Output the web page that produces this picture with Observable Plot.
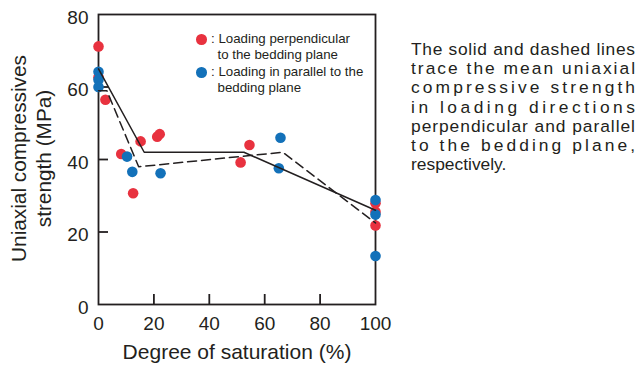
<!DOCTYPE html>
<html><head><meta charset="utf-8">
<script src="https://cdn.jsdelivr.net/npm/d3@7"></script>
<script src="https://cdn.jsdelivr.net/npm/@observablehq/plot@0.6"></script>
<style>
body{margin:0;background:#fff;font-family:"Liberation Sans",Arial,sans-serif;color:#231f20;}
#wrap{position:relative;width:638px;height:369px;overflow:hidden;}
#chart{position:absolute;left:0;top:0;}
.leg{position:absolute;font-size:13.3px;line-height:16px;white-space:nowrap;}
.dot{position:absolute;width:10.6px;height:10.6px;border-radius:50%;}
#note{position:absolute;left:411px;top:40px;width:224px;font-size:17.4px;line-height:19.2px;}
#note div{white-space:nowrap;}
</style></head>
<body><div id="wrap"><div id="chart"></div><div id="legend"></div><div id="note"></div></div>
<script>
// Data
const perpX = [0, 0, 2.5, 8.2, 12.5, 15.2, 21.2, 22.1, 51.3, 54.5, 100, 100, 100];
const perpY = [71.2, 62.7, 56.5, 41.5, 30.7, 45, 46.3, 47, 39.2, 44, 27.9, 25.6, 21.8];
const paraX = [0, 0, 0, 10.3, 12.2, 22.4, 65.1, 65.7, 100, 100, 100];
const paraY = [64.2, 62, 60, 40.8, 36.6, 36.2, 37.6, 46, 28.8, 24.8, 13.4];
const solidX = [0, 16.5, 52.5, 100];
const solidY = [65, 42, 42, 26];
const dashX = [0, 3, 14.5, 66.5, 100];
const dashY = [59, 59, 38, 42, 22.5];
const xTicks = [0, 20, 40, 60, 80, 100];
const yTicks = [0, 20, 40, 60, 80];
const legendLabels = [": Loading perpendicular\nto the bedding plane", ": Loading in parallel to the\nbedding plane"];
const noteLines = ["The solid and dashed lines", "trace the mean uniaxial", "compressive strength", "in loading directions", "perpendicular and parallel", "to the bedding plane,", "respectively."];
const xTitle = "Degree of saturation (%)";
const yTitle = "Uniaxial compressives\nstrength (MPa)";

const RED = "#e8323f", BLUE = "#1371b9", INK = "#231f20";

const perp = perpX.map((x, i) => ({x, y: perpY[i]}));
const para = paraX.map((x, i) => ({x, y: paraY[i]}));
const solid = solidX.map((x, i) => ({x, y: solidY[i]}));
const dash = dashX.map((x, i) => ({x, y: dashY[i]}));

const chart = Plot.plot({
  width: 400, height: 369,
  marginLeft: 98, marginRight: 25, marginTop: 14, marginBottom: 65,
  style: {fontFamily: "Liberation Sans, Arial, sans-serif", color: INK, background: "transparent", overflow: "visible"},
  x: {domain: [0, 100], axis: null},
  y: {domain: [0, 80], axis: null},
  marks: [
    Plot.axisX(xTicks.slice(1, -1), {tickSize: -10, tickFormat: () => "", strokeWidth: 1.8, stroke: INK, label: null}),
    Plot.axisY(yTicks.slice(1, -1), {tickSize: -10, tickFormat: () => "", strokeWidth: 1.8, stroke: INK, label: null}),
    Plot.axisX(xTicks, {tickSize: 0, tickPadding: 12, fontSize: 19, label: null}),
    Plot.axisY(yTicks, {tickSize: 0, tickPadding: 10, fontSize: 19, dy: 3, label: null}),
    Plot.frame({stroke: INK, strokeWidth: 1.8}),
    Plot.dot(perp, {x: "x", y: "y", r: 5.3, fill: RED}),
    Plot.dot(para, {x: "x", y: "y", r: 5.3, fill: BLUE}),
    Plot.line(solid, {x: "x", y: "y", stroke: INK, strokeWidth: 1.5}),
    Plot.line(dash, {x: "x", y: "y", stroke: INK, strokeWidth: 1.5, strokeDasharray: "9,5"}),
    Plot.text([xTitle], {text: d => d, frameAnchor: "bottom", textAnchor: "middle", dy: 54, fontSize: 21, fill: INK}),
    Plot.text([yTitle], {text: d => d, frameAnchor: "left", textAnchor: "middle", lineAnchor: "middle", dx: -68, dy: -1, rotate: -90, fontSize: 20.8, lineHeight: 1.2, fill: INK})
  ]
});
document.getElementById("chart").appendChild(chart);

// In-chart legend
const legend = document.getElementById("legend");
const legColors = [RED, BLUE];
const legTops = [31, 64];
legendLabels.forEach((lab, i) => {
  const d = document.createElement("div");
  d.className = "dot";
  d.style.background = legColors[i];
  d.style.left = (201.7 - 5.3) + "px";
  d.style.top = (legTops[i] + 8.3 - 5.3) + "px";
  legend.appendChild(d);
  const [l1, l2] = lab.split("\n");
  const t1 = document.createElement("div");
  t1.className = "leg"; t1.textContent = l1;
  t1.style.left = "211px"; t1.style.top = legTops[i] + "px";
  legend.appendChild(t1);
  const t2 = document.createElement("div");
  t2.className = "leg"; t2.textContent = l2;
  t2.style.left = "217.5px"; t2.style.top = (legTops[i] + 16) + "px";
  legend.appendChild(t2);
});

// Justified annotation (letter-spacing justification)
const note = document.getElementById("note");
const W = 224;
noteLines.forEach((line, i) => {
  const d = document.createElement("div");
  const s = document.createElement("span");
  s.textContent = line;
  d.appendChild(s);
  note.appendChild(d);
  if (i < noteLines.length - 1) {
    const w = s.getBoundingClientRect().width;
    const ls = (W - w) / (line.length - 1);
    s.style.letterSpacing = ls + "px";
  }
});
</script>
</body></html>
